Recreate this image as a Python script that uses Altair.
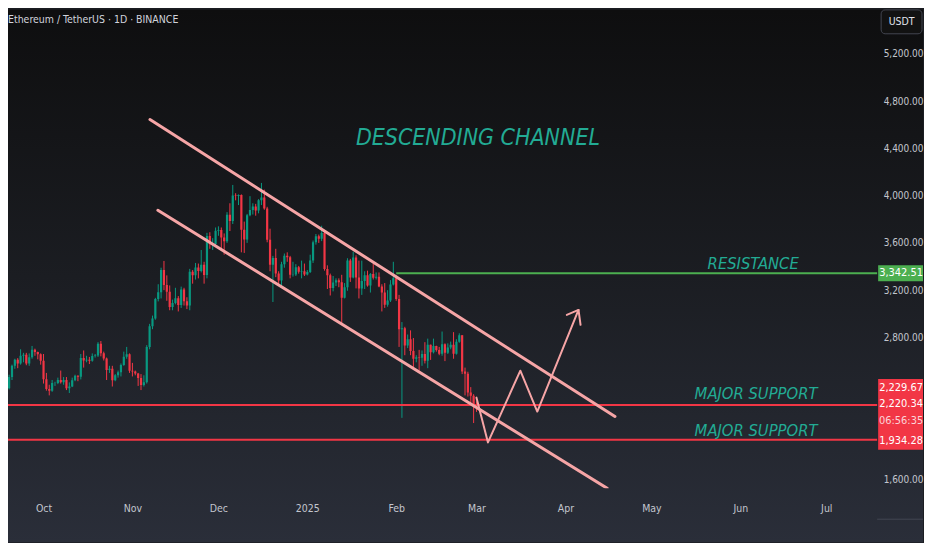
import altair as alt
import pandas as pd

# ---------------- data (ETH/USDT daily) ----------------
start_date = "2024-09-18"

opens = [
    2340, 2370, 2465, 2560, 2612, 2580, 2645, 2653, 2580, 2632, 2695, 2677, 2658,
    2602, 2447, 2364, 2350, 2414, 2414, 2440, 2422, 2440, 2370, 2386, 2437, 2476,
    2467, 2627, 2606, 2611, 2604, 2644, 2648, 2747, 2666, 2622, 2525, 2535, 2438,
    2480, 2505, 2567, 2636, 2657,
    2518, 2512, 2495, 2458, 2398, 2422, 2720, 2895, 2961, 3126, 3183, 3371, 3243,
    3186, 3058, 3092, 3131, 3074, 3205, 3107, 3070, 3355, 3326, 3392, 3362, 3416,
    3329, 3658, 3588, 3591,
    3703, 3708, 3645, 3613, 3837, 3785, 4000, 3996, 4006, 3711, 3628, 3833, 3879,
    3907, 3873, 3960, 3983, 3891, 3627, 3416, 3473, 3341, 3281, 3420, 3492, 3478,
    3331, 3333, 3394, 3356, 3359,
    3332, 3353, 3452, 3605, 3657, 3635, 3684, 3380, 3327, 3219, 3264, 3283, 3267,
    3136, 3224, 3451, 3307, 3476, 3307, 3215, 3277, 3327, 3240, 3337, 3306, 3314,
    3230, 3180, 3076, 3112, 3247,
    3300, 3125, 2869, 2878, 2733, 2785, 2686, 2620, 2632, 2628, 2660, 2602, 2738,
    2674, 2728, 2693, 2662, 2743, 2671, 2715, 2738, 2662, 2763, 2818, 2513, 2494,
    2335, 2306,
    2237,
]
highs = [
    2380, 2485, 2570, 2620, 2625, 2700, 2670, 2670, 2665, 2728, 2705, 2680, 2665,
    2660, 2500, 2400, 2440, 2425, 2460, 2520, 2465, 2465, 2420, 2460, 2485, 2480,
    2660, 2690, 2645, 2635, 2665, 2660, 2760, 2770, 2680, 2630, 2560, 2560, 2490,
    2520, 2580, 2680, 2720, 2665,
    2585, 2520, 2500, 2490, 2480, 2735, 2915, 2985, 3135, 3250, 3390, 3447, 3325,
    3240, 3120, 3220, 3150, 3230, 3220, 3140, 3380, 3370, 3430, 3425, 3540, 3440,
    3685, 3690, 3640, 3730,
    3740, 3730, 3680, 3860, 3935, 4090, 4020, 4010, 4010, 3780, 3845, 3995, 3935,
    3930, 3970, 4107, 4050, 3905, 3720, 3490, 3550, 3360, 3440, 3510, 3520, 3490,
    3440, 3420, 3405, 3450, 3425,
    3370, 3500, 3620, 3675, 3670, 3745, 3700, 3410, 3340, 3320, 3300, 3300, 3330,
    3260, 3470, 3465, 3525, 3495, 3450, 3450, 3360, 3365, 3345, 3425, 3350, 3350,
    3250, 3260, 3200, 3285, 3440,
    3325, 3160, 2930, 2890, 2825, 2860, 2795, 2650, 2695, 2690, 2760, 2790, 2740,
    2790, 2730, 2720, 2850, 2750, 2750, 2765, 2845, 2785, 2835, 2820, 2545, 2510,
    2380, 2320,
    2260,
]
lows = [
    2277, 2360, 2440, 2535, 2540, 2570, 2590, 2565, 2560, 2620, 2645, 2615, 2570,
    2410, 2350, 2310, 2340, 2390, 2405, 2410, 2400, 2355, 2330, 2380, 2430, 2430,
    2445, 2545, 2590, 2575, 2595, 2630, 2635, 2640, 2605, 2440, 2500, 2385, 2430,
    2460, 2470, 2560, 2620, 2500,
    2470, 2480, 2390, 2355, 2385, 2410, 2700, 2870, 2950, 3105, 3130, 3200, 3110,
    3030, 3030, 3080, 3020, 3050, 3070, 3040, 3030, 3255, 3290, 3300, 3350, 3255,
    3300, 3550, 3540, 3580,
    3660, 3545, 3500, 3600, 3700, 3760, 3960, 3920, 3520, 3515, 3600, 3825, 3840,
    3830, 3850, 3920, 3880, 3605, 3360, 3100, 3310, 3250, 3220, 3390, 3440, 3300,
    3315, 3320, 3340, 3300, 3320,
    3325, 3345, 3430, 3585, 3600, 3615, 3365, 3210, 3155, 3190, 3235, 3225, 2920,
    3130, 3195, 3270, 3300, 3215, 3130, 3160, 3210, 3230, 3180, 3290, 3290, 3225,
    3020, 3050, 3060, 3100, 3240,
    3110, 2720, 2120, 2650, 2710, 2650, 2550, 2590, 2520, 2560, 2580, 2540, 2610,
    2665, 2680, 2650, 2645, 2600, 2660, 2700, 2620, 2655, 2755, 2490, 2310, 2300,
    2230, 2076,
    2170,
]
closes = [
    2370, 2465, 2560, 2612, 2580, 2645, 2653, 2580, 2632, 2695, 2677, 2658, 2602,
    2447, 2364, 2350, 2414, 2414, 2440, 2422, 2440, 2370, 2386, 2437, 2476, 2467,
    2627, 2606, 2611, 2604, 2644, 2648, 2747, 2666, 2622, 2525, 2535, 2438, 2480,
    2505, 2567, 2636, 2657, 2518,
    2512, 2495, 2458, 2398, 2422, 2720, 2895, 2961, 3126, 3183, 3371, 3243, 3186,
    3058, 3092, 3131, 3074, 3205, 3107, 3070, 3355, 3326, 3392, 3362, 3416, 3329,
    3658, 3588, 3591, 3703,
    3708, 3645, 3613, 3837, 3785, 4000, 3996, 4006, 3711, 3628, 3833, 3879, 3907,
    3873, 3960, 3983, 3891, 3627, 3416, 3473, 3341, 3281, 3420, 3492, 3478, 3331,
    3333, 3394, 3356, 3359, 3332,
    3353, 3452, 3605, 3657, 3635, 3684, 3380, 3327, 3219, 3264, 3283, 3267, 3136,
    3224, 3451, 3307, 3476, 3307, 3215, 3277, 3327, 3240, 3337, 3306, 3314, 3230,
    3180, 3076, 3112, 3247, 3300,
    3125, 2869, 2878, 2733, 2785, 2686, 2620, 2632, 2628, 2660, 2602, 2738, 2674,
    2728, 2693, 2662, 2743, 2671, 2715, 2738, 2662, 2763, 2818, 2513, 2494, 2335,
    2306, 2237,
    2220,
]

# horizontal levels
level_prices = [3342.51, 2229.67, 1934.28]
level_start = ["2025-02-01T00:00:00Z", "2024-09-01T00:00:00Z", "2024-09-01T00:00:00Z"]
level_end = ["2025-08-15T00:00:00Z", "2025-08-15T00:00:00Z", "2025-08-15T00:00:00Z"]

# channel lines
upper_channel_t = ["2024-11-07T03:00:00Z", "2025-04-18T07:00:00Z"]
upper_channel_p = [4643, 2131]
lower_channel_t = ["2024-11-09T21:00:00Z", "2025-04-15T14:00:00Z"]
lower_channel_p = [3876, 1524]

# projected zigzag path and arrow head
path_t = ["2025-03-01T00:00:00Z", "2025-03-05T00:00:00Z", "2025-03-16T07:00:00Z",
          "2025-03-22T05:00:00Z", "2025-04-05T14:00:00Z"]
path_p = [2291, 1912, 2519, 2173, 3033]
arrow_t = ["2025-04-01T12:00:00Z", "2025-04-05T14:00:00Z", "2025-04-06T07:00:00Z"]
arrow_p = [2991, 3033, 2907]

# annotations
big_text = ["DESCENDING CHANNEL"]
big_t = ["2025-03-01T12:00:00Z"]
big_p = [4483]
small_text = ["RESISTANCE", "MAJOR SUPPORT", "MAJOR SUPPORT"]
small_t = ["2025-06-05T12:00:00Z", "2025-06-06T12:00:00Z", "2025-06-06T12:00:00Z"]
small_p = [3425, 2321, 2009]

# price scale labels
price_ticks = [1600, 2800, 3200, 3600, 4000, 4400, 4800, 5200]
month_ticks = ["2024-10-01", "2024-11-01", "2024-12-01", "2025-01-01", "2025-02-01",
               "2025-03-01", "2025-04-01", "2025-05-01", "2025-06-01", "2025-07-01"]
tag_text = ["3,342.51", "2,229.67", "2,220.34", "06:56:35", "1,934.28"]
tag_price = [3342.51, 2229.67, 2220.34, 2220.34, 1934.28]
title_text = "Ethereum / TetherUS · 1D · BINANCE"
unit_text = "USDT"

# ---------------- styles ----------------
FONT = "Liberation Sans Narrow, DejaVu Sans Condensed, Arial Narrow, Roboto, sans-serif"
GREEN = "#089981"
RED = "#f23645"
PINK = "#f6a5a6"
TEAL = "#22ab94"
AXIS_COL = "#c3c6ce"
W, H = 872, 480
FULL_W, FULL_H = 918, 534

dates = pd.date_range(start_date, periods=len(closes), freq="D").strftime("%Y-%m-%dT00:00:00Z").tolist()
candles = pd.DataFrame({"t": dates, "o": opens, "h": highs, "l": lows, "c": closes})


def dt(s, h=0, m=0):
    y, mo, d = [int(v) for v in s.split("-")]
    return alt.DateTime(year=y, month=mo, date=d, hours=h, minutes=m, utc=True)


x_scale = alt.Scale(type="utc", domain=[dt("2024-09-20", 8, 20), dt("2025-07-17")])
y_scale = alt.Scale(domain=[1524, 5571], nice=False, zero=False)
x_axis = alt.Axis(
    values=[dt(s) for s in month_ticks],
    labelExpr="utcmonth(datum.value) == 0 ? utcFormat(datum.value, '%Y') : utcFormat(datum.value, '%b')",
    domain=False, ticks=False, grid=False, title=None, labelColor=AXIS_COL,
    labelFont=FONT, labelFontSize=10.5, labelPadding=15, labelOverlap=False, labelFlush=False,
    zindex=1,
)
y_axis = alt.Axis(
    orient="right", values=price_ticks, format=",.2f", domain=False, ticks=False,
    grid=False, title=None, labelColor=AXIS_COL, labelFont=FONT, labelFontSize=10,
    labelPadding=6, labelOverlap=False, zindex=1,
)


def X(f):
    return alt.X(f, type="temporal", scale=x_scale, axis=x_axis)


def Y(f):
    return alt.Y(f, type="quantitative", scale=y_scale, axis=y_axis)


one = alt.Data(values=[{"k": 0}])

bg = alt.Chart(one).mark_rect(
    fill=alt.Gradient(
        gradient="linear",
        stops=[alt.GradientStop(color="#0e0e0f", offset=0),
               alt.GradientStop(color="#1b1d22", offset=0.5),
               alt.GradientStop(color="#2a2e39", offset=1)],
        x1=0, x2=0, y1=0, y2=1,
    )
).encode(x=alt.value(0), x2=alt.value(FULL_W), y=alt.value(0), y2=alt.value(FULL_H))

sep = alt.Chart(one).mark_rule(color="#434651", strokeWidth=1).encode(
    x=alt.value(W), x2=alt.value(FULL_W), y=alt.value(511)
)

ccol = alt.condition(alt.datum.c >= alt.datum.o, alt.value(GREEN), alt.value(RED))
wicks = alt.Chart(candles).mark_rule(clip=True, strokeWidth=1).encode(
    x=X("t"), y=Y("l"), y2=alt.Y2("h"), color=ccol
)
bodies = alt.Chart(candles).mark_bar(clip=True, size=2.2).encode(
    x=X("t"), y=Y("o"), y2=alt.Y2("c"), color=ccol
)

levels_df = pd.DataFrame({"p": level_prices, "t0": level_start, "t1": level_end,
                          "kind": ["res", "sup", "sup"]})
level_lines = alt.Chart(levels_df).mark_rule(clip=True, strokeWidth=2).encode(
    x=X("t0"), x2=alt.X2("t1"), y=Y("p"),
    color=alt.condition(alt.datum.kind == "res", alt.value("#4caf50"), alt.value(RED)),
)


def line_layer(ts, ps, width):
    df = pd.DataFrame({"t": ts, "p": ps, "i": list(range(len(ts)))})
    return alt.Chart(df).mark_line(clip=True, color=PINK, strokeWidth=width,
                                   strokeCap="round", strokeJoin="round").encode(
        x=X("t"), y=Y("p"), order="i:Q"
    )


upper = line_layer(upper_channel_t, upper_channel_p, 3)
lower = line_layer(lower_channel_t, lower_channel_p, 3)
zig = line_layer(path_t, path_p, 2)
arrow = line_layer(arrow_t, arrow_p, 2)

big = alt.Chart(pd.DataFrame({"t": big_t, "p": big_p, "s": big_text})).mark_text(
    font=FONT, fontSize=23, fontStyle="italic", fontWeight=500, color=TEAL,
    align="center", baseline="middle"
).encode(x=X("t"), y=Y("p"), text="s:N")

small = alt.Chart(pd.DataFrame({"t": small_t, "p": small_p, "s": small_text})).mark_text(
    font=FONT, fontSize=16.5, fontStyle="italic", fontWeight=500, color=TEAL,
    align="center", baseline="middle"
).encode(x=X("t"), y=Y("p"), text="s:N")

title = alt.Chart(one).mark_text(
    font=FONT, fontSize=10.5, color="#d1d4dc", align="left", baseline="middle"
).encode(x=alt.value(0), y=alt.value(10), text=alt.value(title_text))

unit_box = alt.Chart(one).mark_rect(
    fill="#121212", stroke="#434651", strokeWidth=1, cornerRadius=4
).encode(x=alt.value(W + 4), x2=alt.value(W + 45), y=alt.value(0), y2=alt.value(24))
unit_lbl = alt.Chart(one).mark_text(
    font=FONT, fontSize=10.5, color="#e0e3eb", align="center", baseline="middle"
).encode(x=alt.value(W + 24.5), y=alt.value(12), text=alt.value(unit_text))

green_box = alt.Chart(pd.DataFrame({"p": [tag_price[0]]})).mark_rect(
    fill="#4caf50", yOffset=-8, y2Offset=8
).encode(x=alt.value(W + 1), x2=alt.value(FULL_W), y=Y("p"), y2=alt.Y2("p"))
red_box = alt.Chart(pd.DataFrame({"a": [tag_price[1]], "b": [tag_price[4]]})).mark_rect(
    fill=RED, yOffset=-26, y2Offset=10
).encode(x=alt.value(W + 1), x2=alt.value(FULL_W), y=Y("a"), y2=alt.Y2("b"))

tag_dy = [0, -17, -2, 15, 1]
tag_col = ["#ffffff", "#ffffff", "#ffffff", "#fbd3d7", "#ffffff"]
tags = []
for txt, pr, dy, col in zip(tag_text, tag_price, tag_dy, tag_col):
    tags.append(
        alt.Chart(pd.DataFrame({"p": [pr], "s": [txt]})).mark_text(
            font=FONT, fontSize=11, color=col, align="center", baseline="middle", dy=dy
        ).encode(x=alt.value(W + 24), y=Y("p"), text="s:N")
    )

chart = alt.layer(
    bg, sep, wicks, bodies, level_lines, upper, lower, zig, arrow, big, small,
    title, unit_box, unit_lbl, green_box, red_box, *tags
).properties(width=W, height=H, padding=0, background="#1b1d22").configure_view(stroke=None)

chart.save("out.html", embed_options={"renderer": "svg", "actions": False})
